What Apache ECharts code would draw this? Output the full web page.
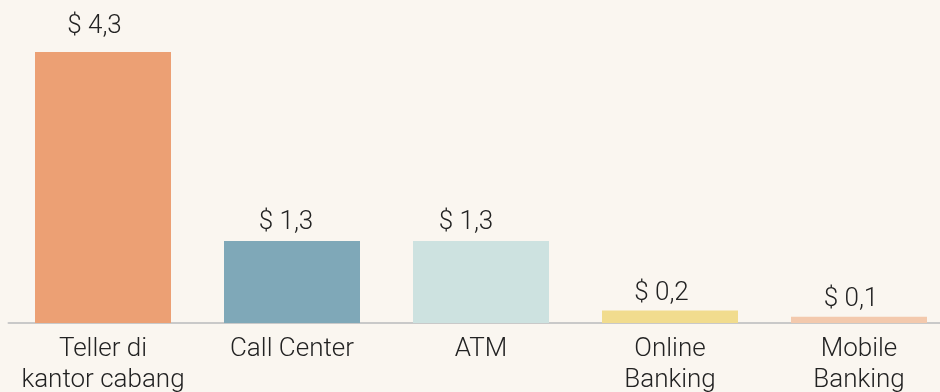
<!DOCTYPE html>
<html>
<head>
<meta charset="utf-8">
<style>
  html, body { margin: 0; padding: 0; background: #faf6f0; }
  #chart { width: 940px; height: 392px; }
</style>
<script src="https://cdn.jsdelivr.net/npm/echarts@6/dist/echarts.min.js"></script>
</head>
<body>
<div id="chart"></div>
<script>
// Cost per transaction by channel (USD)
const categories = ['Teller di\nkantor cabang', 'Call Center', 'ATM', 'Online\nBanking', 'Mobile\nBanking'];
const costs = [4.3, 1.3, 1.3, 0.2, 0.1];
const barColors = ['#eca074', '#7fa8b8', '#cde2e0', '#f1dc8e', '#f3c9ad'];
// gap between each value label and its bar, and its sideways nudge
const labelGaps = [13, 6, 6, 4, 4];
const labelShifts = [-8.5, -6, -15, -8.5, -8];

const chart = echarts.init(document.getElementById('chart'));
chart.setOption({
  backgroundColor: '#faf6f0',
  animation: false,
  grid: { left: 8.5, top: 8, right: -13.5, bottom: 69, containLabel: false, outerBoundsMode: 'none' },
  xAxis: {
    type: 'category',
    data: categories,
    axisLine: { lineStyle: { color: '#c9c9c9', width: 2 } },
    axisTick: { show: false },
    axisLabel: {
      interval: 0,
      margin: 11,
      color: '#222',
      fontFamily: 'Roboto',
      fontWeight: 300,
      fontSize: 26,
      lineHeight: 31
    }
  },
  yAxis: {
    type: 'value',
    min: 0,
    max: 5,
    show: false,
    splitLine: { show: false }
  },
  series: [{
    type: 'bar',
    barWidth: 136,
    data: costs.map((v, i) => ({
      value: v,
      itemStyle: { color: barColors[i] },
      label: { distance: labelGaps[i], offset: [labelShifts[i], 0] }
    })),
    label: {
      show: true,
      position: 'top',
      color: '#222',
      fontFamily: 'Roboto',
      fontWeight: 300,
      fontSize: 26,
      formatter: p => '$ ' + String(p.value).replace('.', ',')
    }
  }]
});
</script>
</body>
</html>
